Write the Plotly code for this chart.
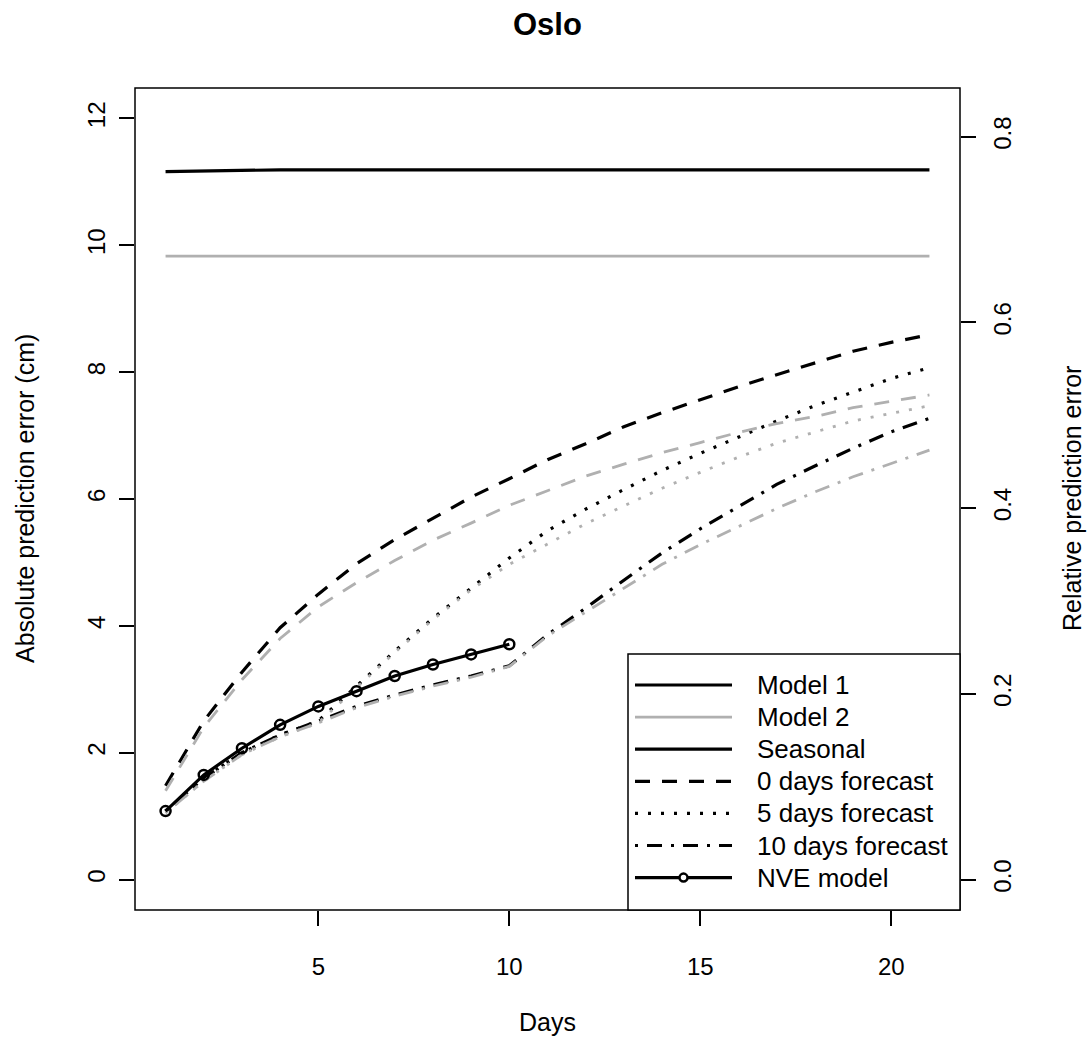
import plotly.graph_objects as go

# ---------------- data ----------------
days = [1, 2, 3, 4, 5, 6, 7, 8, 9, 10, 11, 12, 13, 14, 15, 16, 17, 18, 19, 20, 21]
nve_days = [1, 2, 3, 4, 5, 6, 7, 8, 9, 10]

m1_seasonal = [11.16, 11.17, 11.19, 11.19, 11.19, 11.19, 11.19, 11.19, 11.19, 11.19, 11.19,
               11.19, 11.19, 11.19, 11.19, 11.19, 11.19, 11.19, 11.19, 11.19, 11.19]
m2_seasonal = [9.83, 9.83, 9.83, 9.83, 9.83, 9.83, 9.82, 9.82, 9.83, 9.83, 9.83,
               9.83, 9.82, 9.82, 9.82, 9.83, 9.82, 9.82, 9.82, 9.82, 9.83]

m1_fc0 = [1.48, 2.50, 3.27, 3.97, 4.50, 4.98, 5.36, 5.70, 6.03, 6.32, 6.62,
          6.87, 7.14, 7.36, 7.57, 7.77, 7.96, 8.15, 8.33, 8.47, 8.59]
m2_fc0 = [1.40, 2.40, 3.15, 3.80, 4.30, 4.68, 5.03, 5.35, 5.62, 5.90, 6.13,
          6.36, 6.55, 6.73, 6.89, 7.05, 7.19, 7.30, 7.44, 7.54, 7.64]
m1_fc5 = [1.08, 1.60, 2.00, 2.28, 2.50, 3.05, 3.60, 4.12, 4.60, 5.07, 5.50,
          5.84, 6.15, 6.45, 6.72, 6.98, 7.23, 7.47, 7.69, 7.90, 8.07]
m2_fc5 = [1.05, 1.55, 1.97, 2.25, 2.47, 3.02, 3.58, 4.10, 4.57, 4.97, 5.29,
          5.61, 5.89, 6.17, 6.42, 6.66, 6.88, 7.05, 7.23, 7.35, 7.47]
m1_fc10 = [1.08, 1.60, 2.00, 2.28, 2.50, 2.73, 2.91, 3.07, 3.21, 3.37, 3.86,
           4.28, 4.72, 5.15, 5.53, 5.88, 6.23, 6.52, 6.80, 7.06, 7.27]
m2_fc10 = [1.05, 1.55, 1.97, 2.25, 2.47, 2.71, 2.89, 3.05, 3.19, 3.36, 3.84,
           4.22, 4.60, 4.97, 5.28, 5.57, 5.85, 6.11, 6.35, 6.56, 6.77]
nve = [1.08, 1.65, 2.07, 2.44, 2.73, 2.97, 3.21, 3.39, 3.55, 3.71]

x_ticks = [5, 10, 15, 20]
y_ticks = [0, 2, 4, 6, 8, 10, 12]
y2_ticks = [0.0, 0.2, 0.4, 0.6, 0.8]
y2_ticktext = ["0.0", "0.2", "0.4", "0.6", "0.8"]

legend_labels = ["Model 1", "Model 2", "Seasonal", "0 days forecast",
                 "5 days forecast", "10 days forecast", "NVE model"]

# ---------------- styles ----------------
BLACK = "#000000"
GREY = "#B0B0B0"
FONT = "Liberation Sans, Arial, sans-serif"
DASH = "15px,12px"
DOT = "3px,10px"
DASHDOT = "3px,9px,15px,9px"
LW_B = 3.2
LW_G = 2.8

W, H = 1089, 1039
L, R, T, B = 135, 960, 88, 910  # plot area in pixels
PW, PH = R - L, B - T

YR = [-0.48, 12.48]
REL_K = 14.64  # cm per unit relative error
Y2R = [YR[0] / REL_K, YR[1] / REL_K]


def px_x(p):
    return (p - L) / PW


def px_y(p):
    return (B - p) / PH


fig = go.Figure()


def add_line(x, y, color, width, dash):
    fig.add_trace(go.Scatter(x=x, y=y, mode="lines", showlegend=False,
                             line=dict(color=color, width=width, dash=dash),
                             hoverinfo="skip"))


# Model 1 (black)
add_line(days, m1_seasonal, BLACK, LW_B, "solid")
add_line(days, m1_fc0, BLACK, LW_B, DASH)
add_line(days, m1_fc5, BLACK, LW_B, DOT)
add_line(days, m1_fc10, BLACK, LW_B, DASHDOT)
# Model 2 (grey)
add_line(days, m2_seasonal, GREY, LW_G, "solid")
add_line(days, m2_fc0, GREY, LW_G, DASH)
add_line(days, m2_fc5, GREY, LW_G, DOT)
add_line(days, m2_fc10, GREY, LW_G, DASHDOT)
# NVE
fig.add_trace(go.Scatter(x=nve_days, y=nve, mode="lines+markers", showlegend=False,
                         line=dict(color=BLACK, width=LW_B),
                         marker=dict(symbol="circle-open", size=10, color=BLACK,
                                     line=dict(width=2.5, color=BLACK)),
                         hoverinfo="skip"))
# dummy trace for right axis
fig.add_trace(go.Scatter(x=[None], y=[None], yaxis="y2", showlegend=False))

# ---------------- legend (drawn manually, R style) ----------------
leg_left, leg_top = 628, 654
row0, row_step = 685, 32.1
sx0, sx1, tx = 635, 732, 755
leg_styles = [
    (BLACK, LW_B, "solid", False),
    (GREY, LW_G, "solid", False),
    (BLACK, LW_B, "solid", False),
    (BLACK, LW_B, "dash", False),
    (BLACK, LW_B, "dot", False),
    (BLACK, LW_B, "dashdot", False),
    (BLACK, LW_B, "solid", True),
]
dash_map = {"solid": "solid", "dash": DASH, "dot": DOT, "dashdot": DASHDOT}

shapes = [
    dict(type="rect", xref="paper", yref="paper", x0=0, x1=1, y0=0, y1=1,
         line=dict(color=BLACK, width=1.5), layer="above"),
    dict(type="rect", xref="paper", yref="paper", x0=px_x(leg_left), x1=1,
         y0=0, y1=px_y(leg_top), line=dict(color=BLACK, width=1.5),
         fillcolor="white", layer="above"),
]
annotations = []
for i, (lab, (col, lw, dsh, mk)) in enumerate(zip(legend_labels, leg_styles)):
    ry = row0 + i * row_step
    shapes.append(dict(type="line", xref="paper", yref="paper",
                       x0=px_x(sx0), x1=px_x(sx1), y0=px_y(ry), y1=px_y(ry),
                       line=dict(color=col, width=lw, dash=dash_map[dsh]), layer="above"))
    if mk:
        cx = (sx0 + sx1) / 2
        shapes.append(dict(type="circle", xref="paper", yref="paper",
                           xsizemode="pixel", ysizemode="pixel",
                           xanchor=px_x(cx), yanchor=px_y(ry),
                           x0=-4, x1=4, y0=-4, y1=4,
                           line=dict(color=BLACK, width=2.5), fillcolor="white",
                           layer="above"))
    annotations.append(dict(text=lab, xref="paper", yref="paper", x=px_x(tx), y=px_y(ry),
                            xanchor="left", yanchor="middle", showarrow=False,
                            font=dict(family=FONT, size=26, color=BLACK)))

# axis titles
annotations += [
    dict(text="Days", xref="paper", yref="paper", x=0.5, y=px_y(1022),
         xanchor="center", yanchor="middle", showarrow=False,
         font=dict(family=FONT, size=25, color=BLACK)),
    dict(text="Absolute prediction error (cm)", xref="paper", yref="paper",
         x=px_x(25), y=0.5, xanchor="center", yanchor="middle", textangle=-90,
         showarrow=False, font=dict(family=FONT, size=25, color=BLACK)),
    dict(text="Relative prediction error", xref="paper", yref="paper",
         x=px_x(1072), y=0.5, xanchor="center", yanchor="middle", textangle=-90,
         showarrow=False, font=dict(family=FONT, size=25, color=BLACK)),
    dict(text="<b>Oslo</b>", xref="paper", yref="paper", x=0.5, y=px_y(24),
         xanchor="center", yanchor="middle", showarrow=False,
         font=dict(family=FONT, size=31, color=BLACK)),
]

axis_common = dict(showgrid=False, zeroline=False, showline=False, ticks="outside",
                   ticklen=15, tickwidth=1.5, tickcolor=BLACK,
                   tickfont=dict(family=FONT, size=24, color=BLACK))

fig.update_layout(
    width=W, height=H,
    margin=dict(l=L, r=W - R, t=T, b=H - B),
    paper_bgcolor="white", plot_bgcolor="white",
    showlegend=False,
    hovermode=False,
    xaxis=dict(range=[0.2, 21.8], tickvals=x_ticks, ticklabelstandoff=20, **axis_common),
    yaxis=dict(range=YR, tickvals=y_ticks, tickangle=-90, ticklabelstandoff=4,
               **axis_common),
    yaxis2=dict(range=Y2R, tickvals=y2_ticks, ticktext=y2_ticktext, overlaying="y",
                side="right", tickangle=-90, ticklabelstandoff=6, **axis_common),
    shapes=shapes,
    annotations=annotations,
)

fig.write_html("out.html",
               config={"displayModeBar": False},
               post_script="document.body.style.margin='0';document.body.style.padding='0';")
